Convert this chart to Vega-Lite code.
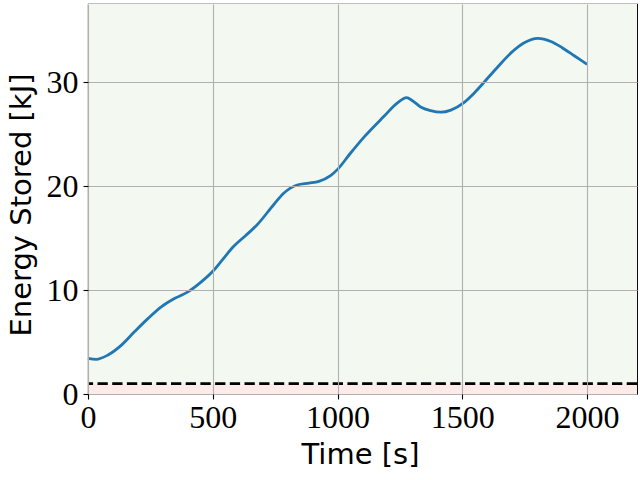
{
  "$schema": "https://vega.github.io/schema/vega-lite/v6.json",
  "width": 549,
  "height": 390,
  "autosize": {"type": "none"},
  "padding": {"left": 88, "top": 4, "right": 3, "bottom": 86},
  "background": "white",
  "config": {
    "view": {"stroke": "black", "strokeWidth": 1.1},
    "axis": {
      "gridColor": "#b0b0b0",
      "gridWidth": 1.1,
      "gridOpacity": 1,
      "domain": false,
      "tickColor": "black",
      "tickWidth": 1.1,
      "tickSize": 5,
      "labelFlush": false,
      "format": "d",
      "labelFont": "Liberation Serif",
      "labelFontSize": 32,
      "labelColor": "black",
      "titleFont": "DejaVu Sans",
      "titleFontSize": 29,
      "titleFontWeight": "normal",
      "titleColor": "black"
    }
  },
  "datasets": {
    "zones": [
      {"y0": 0, "y1": 1, "zone": "below"},
      {"y0": 1, "y1": 37.5, "zone": "above"}
    ],
    "energy": [
      {"t": 0, "E": 3.43},
      {"t": 33, "E": 3.33},
      {"t": 80, "E": 3.75},
      {"t": 134, "E": 4.7},
      {"t": 187, "E": 6.0},
      {"t": 241, "E": 7.27},
      {"t": 295, "E": 8.4},
      {"t": 348, "E": 9.2},
      {"t": 402, "E": 9.84},
      {"t": 455, "E": 10.8},
      {"t": 502, "E": 11.85},
      {"t": 540, "E": 12.95},
      {"t": 584, "E": 14.2},
      {"t": 630, "E": 15.2},
      {"t": 677, "E": 16.25},
      {"t": 744, "E": 18.2},
      {"t": 784, "E": 19.3},
      {"t": 838, "E": 20.1},
      {"t": 885, "E": 20.28},
      {"t": 925, "E": 20.45},
      {"t": 972, "E": 21.0},
      {"t": 1000, "E": 21.6},
      {"t": 1050, "E": 23.1},
      {"t": 1106, "E": 24.7},
      {"t": 1186, "E": 26.7},
      {"t": 1240, "E": 28.0},
      {"t": 1277, "E": 28.5},
      {"t": 1300, "E": 28.2},
      {"t": 1333, "E": 27.6},
      {"t": 1373, "E": 27.25},
      {"t": 1414, "E": 27.1},
      {"t": 1454, "E": 27.3},
      {"t": 1505, "E": 28.0},
      {"t": 1550, "E": 29.0},
      {"t": 1588, "E": 30.0},
      {"t": 1640, "E": 31.4},
      {"t": 1695, "E": 32.8},
      {"t": 1750, "E": 33.8},
      {"t": 1802, "E": 34.2},
      {"t": 1855, "E": 33.9},
      {"t": 1900, "E": 33.3},
      {"t": 1950, "E": 32.5},
      {"t": 2000, "E": 31.7}
    ],
    "threshold": [{"E": 1}]
  },
  "layer": [
    {
      "data": {"name": "zones"},
      "mark": {"type": "rect", "strokeWidth": 0},
      "encoding": {
        "y": {"field": "y0", "type": "quantitative", "scale": {"domain": [0, 37.5], "nice": false, "zero": false},
              "axis": {"values": [0, 10, 20, 30], "grid": true, "zindex": 1, "title": "Energy Stored [kJ]", "labelPadding": 5,
                       "titleAngle": -90, "titleX": -58, "titleY": 200.5, "titleAlign": "center", "titleBaseline": "alphabetic"}},
        "y2": {"field": "y1"},
        "color": {"field": "zone", "type": "nominal", "scale": {"domain": ["below", "above"], "range": ["#fdebea", "#f3f8f0"]}, "legend": null}
      }
    },
    {
      "data": {"name": "energy"},
      "mark": {"type": "line", "color": "#1f77b4", "strokeWidth": 2.8, "interpolate": "monotone", "zindex": 2},
      "encoding": {
        "x": {"field": "t", "type": "quantitative", "scale": {"domain": [0, 2200], "nice": false, "zero": false},
              "axis": {"values": [0, 500, 1000, 1500, 2000], "grid": true, "zindex": 1, "title": "Time [s]", "labelPadding": 3,
                       "titleX": 272, "titleY": 69, "titleAlign": "center", "titleBaseline": "alphabetic"}},
        "y": {"field": "E", "type": "quantitative"}
      }
    },
    {
      "data": {"name": "threshold"},
      "mark": {"type": "rule", "color": "black", "strokeWidth": 2.8, "strokeDash": [10.3, 4.4], "zindex": 2},
      "encoding": {
        "y": {"field": "E", "type": "quantitative"}
      }
    }
  ]
}
